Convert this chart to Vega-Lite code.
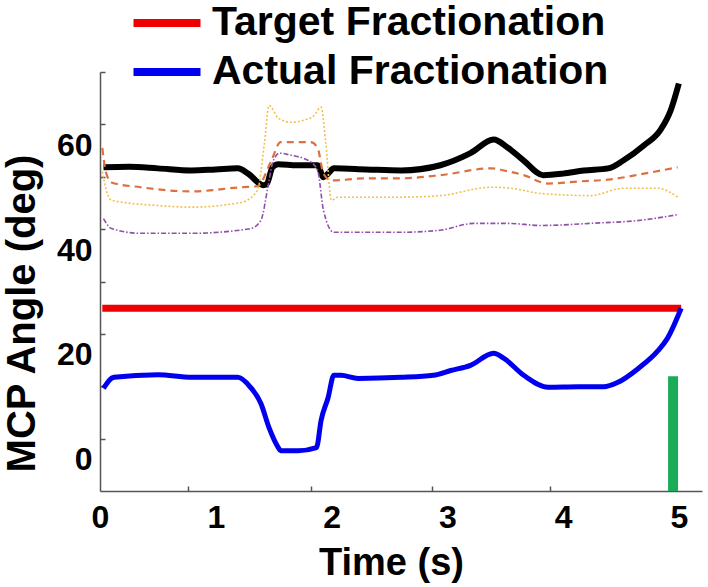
{
  "$schema": "https://vega.github.io/schema/vega-lite/v6.json",
  "width": 602,
  "height": 419,
  "autosize": {"type": "none"},
  "padding": {"left": 100, "top": 72, "right": 6, "bottom": 96},
  "background": "white",
  "config": {"view": {"stroke": null}, "font": "Liberation Sans"},
  "datasets": {
    "curves": [
      {"series": "black", "t": 0.03, "v": 55.8}, {"series": "black", "t": 0.25, "v": 55.9}, {"series": "black", "t": 0.5, "v": 55.6}, {"series": "black", "t": 0.79, "v": 55.2}, {"series": "black", "t": 1.0, "v": 55.4}, {"series": "black", "t": 1.19, "v": 55.6}, {"series": "black", "t": 1.28, "v": 54.6}, {"series": "black", "t": 1.41, "v": 52.4}, {"series": "black", "t": 1.44, "v": 52.6}, {"series": "black", "t": 1.49, "v": 55.8}, {"series": "black", "t": 1.54, "v": 56.4}, {"series": "black", "t": 1.7, "v": 56.2}, {"series": "black", "t": 1.88, "v": 56.2}, {"series": "black", "t": 1.93, "v": 53.9}, {"series": "black", "t": 1.97, "v": 54.6}, {"series": "black", "t": 2.02, "v": 55.6}, {"series": "black", "t": 2.3, "v": 55.4}, {"series": "black", "t": 2.6, "v": 55.2}, {"series": "black", "t": 2.94, "v": 56.2}, {"series": "black", "t": 3.2, "v": 58.5}, {"series": "black", "t": 3.4, "v": 61.1}, {"series": "black", "t": 3.52, "v": 59.6}, {"series": "black", "t": 3.66, "v": 57.1}, {"series": "black", "t": 3.83, "v": 54.3}, {"series": "black", "t": 4.0, "v": 54.6}, {"series": "black", "t": 4.18, "v": 55.2}, {"series": "black", "t": 4.39, "v": 55.6}, {"series": "black", "t": 4.52, "v": 57.1}, {"series": "black", "t": 4.7, "v": 60.0}, {"series": "black", "t": 4.84, "v": 62.9}, {"series": "black", "t": 4.93, "v": 66.7}, {"series": "black", "t": 5.0, "v": 71.8},

      {"series": "orange", "t": 0.02, "v": 59.5}, {"series": "orange", "t": 0.05, "v": 55}, {"series": "orange", "t": 0.1, "v": 52.9}, {"series": "orange", "t": 0.35, "v": 52.0}, {"series": "orange", "t": 0.79, "v": 51.2}, {"series": "orange", "t": 1.22, "v": 52.0}, {"series": "orange", "t": 1.36, "v": 52.2}, {"series": "orange", "t": 1.48, "v": 57.1}, {"series": "orange", "t": 1.56, "v": 60.6}, {"series": "orange", "t": 1.82, "v": 60.6}, {"series": "orange", "t": 1.88, "v": 59.5}, {"series": "orange", "t": 1.93, "v": 54.6}, {"series": "orange", "t": 2.0, "v": 53.3}, {"series": "orange", "t": 2.3, "v": 53.7}, {"series": "orange", "t": 2.6, "v": 53.7}, {"series": "orange", "t": 2.94, "v": 54.3}, {"series": "orange", "t": 3.38, "v": 55.6}, {"series": "orange", "t": 3.49, "v": 55.2}, {"series": "orange", "t": 3.66, "v": 54.3}, {"series": "orange", "t": 3.87, "v": 52.7}, {"series": "orange", "t": 4.13, "v": 53.1}, {"series": "orange", "t": 4.41, "v": 53.5}, {"series": "orange", "t": 4.7, "v": 54.6}, {"series": "orange", "t": 4.99, "v": 55.8},

      {"series": "yellow", "t": 0.02, "v": 55}, {"series": "yellow", "t": 0.06, "v": 51}, {"series": "yellow", "t": 0.1, "v": 49.5}, {"series": "yellow", "t": 0.5, "v": 48.5}, {"series": "yellow", "t": 0.79, "v": 48.2}, {"series": "yellow", "t": 1.22, "v": 49.1}, {"series": "yellow", "t": 1.36, "v": 51.4}, {"series": "yellow", "t": 1.42, "v": 60.4}, {"series": "yellow", "t": 1.46, "v": 67.6}, {"series": "yellow", "t": 1.54, "v": 65.2}, {"series": "yellow", "t": 1.65, "v": 64.4}, {"series": "yellow", "t": 1.76, "v": 64.8}, {"series": "yellow", "t": 1.85, "v": 65.7}, {"series": "yellow", "t": 1.91, "v": 67.3}, {"series": "yellow", "t": 1.95, "v": 60.4}, {"series": "yellow", "t": 2.0, "v": 49.5}, {"series": "yellow", "t": 2.05, "v": 50.1}, {"series": "yellow", "t": 2.6, "v": 50.1}, {"series": "yellow", "t": 2.94, "v": 50.4}, {"series": "yellow", "t": 3.38, "v": 52.0}, {"series": "yellow", "t": 3.55, "v": 51.8}, {"series": "yellow", "t": 3.81, "v": 50.8}, {"series": "yellow", "t": 4.24, "v": 50.4}, {"series": "yellow", "t": 4.52, "v": 51.8}, {"series": "yellow", "t": 4.82, "v": 51.8}, {"series": "yellow", "t": 4.99, "v": 50.1},

      {"series": "purple", "t": 0.03, "v": 46.0}, {"series": "purple", "t": 0.1, "v": 44.1}, {"series": "purple", "t": 0.35, "v": 43.2}, {"series": "purple", "t": 0.79, "v": 43.2}, {"series": "purple", "t": 1.3, "v": 44.1}, {"series": "purple", "t": 1.39, "v": 45.7}, {"series": "purple", "t": 1.45, "v": 52.0}, {"series": "purple", "t": 1.49, "v": 56.6}, {"series": "purple", "t": 1.55, "v": 58.5}, {"series": "purple", "t": 1.65, "v": 58.1}, {"series": "purple", "t": 1.8, "v": 57.1}, {"series": "purple", "t": 1.88, "v": 55.2}, {"series": "purple", "t": 1.93, "v": 47.6}, {"series": "purple", "t": 2.02, "v": 43.4}, {"series": "purple", "t": 2.6, "v": 43.4}, {"series": "purple", "t": 2.94, "v": 43.8}, {"series": "purple", "t": 3.23, "v": 45.1}, {"series": "purple", "t": 3.52, "v": 45.1}, {"series": "purple", "t": 3.81, "v": 44.7}, {"series": "purple", "t": 4.24, "v": 45.1}, {"series": "purple", "t": 4.67, "v": 45.7}, {"series": "purple", "t": 5.0, "v": 46.8},

      {"series": "Target Fractionation", "t": 0.02, "v": 28.9}, {"series": "Target Fractionation", "t": 5.02, "v": 28.9},

      {"series": "Actual Fractionation", "t": 0.03, "v": 13.6}, {"series": "Actual Fractionation", "t": 0.12, "v": 15.7}, {"series": "Actual Fractionation", "t": 0.5, "v": 16.2}, {"series": "Actual Fractionation", "t": 0.79, "v": 15.7}, {"series": "Actual Fractionation", "t": 1.19, "v": 15.7}, {"series": "Actual Fractionation", "t": 1.3, "v": 13.8}, {"series": "Actual Fractionation", "t": 1.39, "v": 10.7}, {"series": "Actual Fractionation", "t": 1.46, "v": 6.1}, {"series": "Actual Fractionation", "t": 1.54, "v": 2.3}, {"series": "Actual Fractionation", "t": 1.56, "v": 1.7}, {"series": "Actual Fractionation", "t": 1.71, "v": 1.7}, {"series": "Actual Fractionation", "t": 1.87, "v": 2.3}, {"series": "Actual Fractionation", "t": 1.91, "v": 7.5}, {"series": "Actual Fractionation", "t": 1.97, "v": 11.8}, {"series": "Actual Fractionation", "t": 2.02, "v": 16.1}, {"series": "Actual Fractionation", "t": 2.08, "v": 16.1}, {"series": "Actual Fractionation", "t": 2.23, "v": 15.5}, {"series": "Actual Fractionation", "t": 2.6, "v": 15.7}, {"series": "Actual Fractionation", "t": 2.88, "v": 16.1}, {"series": "Actual Fractionation", "t": 3.03, "v": 17.0}, {"series": "Actual Fractionation", "t": 3.2, "v": 18.0}, {"series": "Actual Fractionation", "t": 3.4, "v": 20.3}, {"series": "Actual Fractionation", "t": 3.49, "v": 19.3}, {"series": "Actual Fractionation", "t": 3.66, "v": 16.1}, {"series": "Actual Fractionation", "t": 3.87, "v": 13.8}, {"series": "Actual Fractionation", "t": 4.13, "v": 13.9}, {"series": "Actual Fractionation", "t": 4.35, "v": 13.9}, {"series": "Actual Fractionation", "t": 4.47, "v": 14.7}, {"series": "Actual Fractionation", "t": 4.65, "v": 17.4}, {"series": "Actual Fractionation", "t": 4.82, "v": 20.8}, {"series": "Actual Fractionation", "t": 4.9, "v": 23.1}, {"series": "Actual Fractionation", "t": 5.02, "v": 28.9}
    ],
    "marker": [{"t": 4.95, "top": 15.9, "bottom": -6}]
  },
  "layer": [
    {
      "data": {"name": "curves"},
      "transform": [{"filter": "datum.series === 'black'"}],
      "mark": {"type": "line", "color": "#000000", "strokeWidth": 6, "interpolate": "monotone"},
      "encoding": {
        "x": {"field": "t", "type": "quantitative", "scale": {"domain": [0, 5.2], "nice": false, "zero": false},
          "axis": {"values": [0, 1, 2, 3, 4, 5], "ticks": false, "tickSize": 0, "grid": false, "domainColor": "#555555", "domainWidth": 1.5,
            "labelFont": "Liberation Sans", "labelFontSize": 32, "labelFontWeight": "bold", "labelColor": "#000000", "labelPadding": 11, "labelFlush": false,
            "title": "Time (s)", "titleFont": "Liberation Sans", "titleFontSize": 38, "titleFontWeight": "bold", "titleColor": "#000000",
            "titleX": 291, "titleY": 83, "titleBaseline": "alphabetic", "titleAlign": "center", "orient": "bottom"}},
        "y": {"field": "v", "type": "quantitative", "scale": {"domain": [-6, 74], "nice": false, "zero": false},
          "axis": {"values": [0, 20, 40, 60], "ticks": false, "tickSize": 0, "grid": false, "domainColor": "#555555", "domainWidth": 1.5,
            "labelFont": "Liberation Sans", "labelFontSize": 32, "labelFontWeight": "bold", "labelColor": "#000000", "labelPadding": 8, "labelFlush": false,
            "title": "MCP Angle (deg)", "titleFont": "Liberation Sans", "titleFontSize": 40, "titleFontWeight": "bold", "titleColor": "#000000",
            "titleX": -66, "titleY": 241, "titleAngle": -90, "titleBaseline": "alphabetic", "titleAlign": "center", "orient": "left"}}
      }
    },
    {
      "data": {"name": "curves"},
      "transform": [{"filter": "datum.series === 'orange'"}],
      "mark": {"type": "line", "color": "#dd7040", "strokeWidth": 2.2, "strokeDash": [7, 5], "interpolate": "monotone"},
      "encoding": {
        "x": {"field": "t", "type": "quantitative", "axis": null},
        "y": {"field": "v", "type": "quantitative", "axis": null}
      }
    },
    {
      "data": {"name": "curves"},
      "transform": [{"filter": "datum.series === 'yellow'"}],
      "mark": {"type": "line", "color": "#f0c050", "strokeWidth": 1.6, "strokeDash": [2, 2], "interpolate": "monotone"},
      "encoding": {
        "x": {"field": "t", "type": "quantitative", "axis": null},
        "y": {"field": "v", "type": "quantitative", "axis": null}
      }
    },
    {
      "data": {"name": "curves"},
      "transform": [{"filter": "datum.series === 'purple'"}],
      "mark": {"type": "line", "color": "#9050a8", "strokeWidth": 1.6, "strokeDash": [5, 2, 1.5, 2], "interpolate": "monotone"},
      "encoding": {
        "x": {"field": "t", "type": "quantitative", "axis": null},
        "y": {"field": "v", "type": "quantitative", "axis": null}
      }
    },
    {
      "data": {"name": "curves"},
      "transform": [{"filter": "datum.series === 'Target Fractionation'"}],
      "mark": {"type": "line", "strokeWidth": 7},
      "encoding": {
        "x": {"field": "t", "type": "quantitative", "axis": null},
        "y": {"field": "v", "type": "quantitative", "axis": null},
        "color": {"field": "series", "type": "nominal",
          "scale": {"domain": ["Target Fractionation", "Actual Fractionation"], "range": ["#ee0000", "#0000ee"]},
          "legend": {"orient": "none", "legendX": 46, "legendY": -70, "direction": "vertical", "title": null,
            "symbolType": "M-2,0L2,0", "symbolSize": 1122, "symbolStrokeWidth": 8, "rowPadding": 8, "labelOffset": 24, "padding": 0,
            "labelFont": "Liberation Sans", "labelFontSize": 41, "labelFontWeight": "bold", "labelColor": "#000000", "labelLimit": 600}}
      }
    },
    {
      "data": {"name": "curves"},
      "transform": [{"filter": "datum.series === 'Actual Fractionation'"}],
      "mark": {"type": "line", "strokeWidth": 5, "interpolate": "monotone"},
      "encoding": {
        "x": {"field": "t", "type": "quantitative", "axis": null},
        "y": {"field": "v", "type": "quantitative", "axis": null},
        "color": {"field": "series", "type": "nominal"}
      }
    },
    {
      "data": {"name": "marker"},
      "mark": {"type": "rule", "color": "#1aac58", "strokeWidth": 10},
      "encoding": {
        "x": {"field": "t", "type": "quantitative", "scale": {"domain": [0, 5.2], "nice": false, "zero": false},
          "axis": {"values": [0.76, 1.82, 2.87, 3.89], "labels": false, "domain": false, "grid": false, "ticks": true, "tickSize": -5, "tickColor": "#555555", "tickWidth": 1.5, "title": null, "orient": "bottom"}},
        "y": {"field": "top", "type": "quantitative", "scale": {"domain": [-6, 74], "nice": false, "zero": false},
          "axis": {"values": [4, 14, 24, 34, 44, 54, 64, 74], "labels": false, "domain": false, "grid": false, "ticks": true, "tickSize": -5, "tickColor": "#555555", "tickWidth": 1.5, "title": null, "orient": "left"}},
        "y2": {"field": "bottom"}
      }
    }
  ],
  "resolve": {"axis": {"x": "independent", "y": "independent"}}
}
